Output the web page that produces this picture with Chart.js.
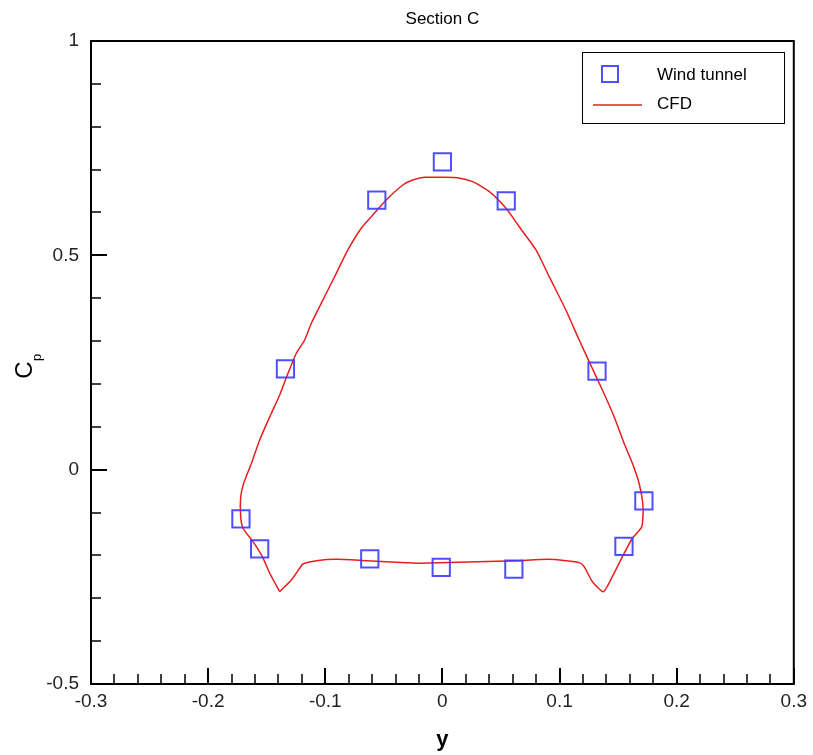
<!DOCTYPE html>
<html>
<head>
<meta charset="utf-8">
<script src="https://cdn.jsdelivr.net/npm/chart.js@4/dist/chart.umd.min.js"></script>
<style>
html,body{margin:0;padding:0;background:#fff;}
#wrap{width:813px;height:755px;}
</style>
</head>
<body>
<div id="wrap"><canvas id="c" width="813" height="755"></canvas></div>
<script>
// Wind tunnel measurements
const windX = [0.000, -0.056, 0.0545, -0.134, 0.132, -0.172, -0.156, -0.062, -0.001, 0.061, 0.155, 0.172];
const windY = [0.718, 0.629, 0.627, 0.235, 0.230, -0.115, -0.185, -0.208, -0.228, -0.232, -0.179, -0.073];

// CFD closed curve
const cfdX = [-0.1389,-0.1474,-0.1537,-0.1617,-0.1702,-0.1722,-0.1722,-0.1696,-0.1630,-0.1560,-0.1460,-0.1389,-0.1318,-0.1247,-0.1176,-0.1119,-0.0991,-0.0906,-0.0807,-0.0693,-0.0594,-0.0480,-0.0338,-0.0253,-0.0153,0.0000,0.0130,0.0258,0.0401,0.0543,0.0656,0.0799,0.0912,0.1054,0.1168,0.1253,0.1366,0.1466,0.1551,0.1622,0.1679,0.1713,0.1702,0.1622,0.1537,0.1451,0.1375,0.1281,0.1210,0.1168,0.1054,0.0897,0.0628,0.0301,-0.0196,-0.0309,-0.0650,-0.0906,-0.1076,-0.1191,-0.1219,-0.1290,-0.1389];
const cfdY = [-0.2846,-0.2417,-0.2029,-0.1680,-0.1367,-0.1096,-0.0630,-0.0317,0.0149,0.0693,0.1316,0.1743,0.2249,0.2716,0.3025,0.3415,0.4115,0.4581,0.5125,0.5631,0.5941,0.6291,0.6641,0.6757,0.6821,0.6821,0.6811,0.6718,0.6485,0.6098,0.5668,0.5125,0.4502,0.3725,0.3025,0.2519,0.1859,0.1236,0.0616,0.0149,-0.0317,-0.0863,-0.1330,-0.1600,-0.2029,-0.2496,-0.2846,-0.2613,-0.2263,-0.2169,-0.2123,-0.2090,-0.2123,-0.2146,-0.2183,-0.2169,-0.2123,-0.2090,-0.2123,-0.2200,-0.2300,-0.2573,-0.2846];

const xTicks = [-0.3,-0.2,-0.1,0,0.1,0.2,0.3];
const yTicks = [-0.5,0,0.5,1];

const chartTitle = 'Section C';
const xTitle = 'y';
const yTitleMain = 'C';
const yTitleSub = 'p';
const legendLabels = ['Wind tunnel','CFD'];

const FONT = '"Liberation Sans", Arial, Helvetica, sans-serif';
const BLUE = 'rgba(60,60,255,0.9)';
const RED = 'rgb(232,30,30)';

const windData = windX.map((x,i)=>({x:x,y:windY[i]}));
const cfdData = cfdX.map((x,i)=>({x:x,y:cfdY[i]}));

const decor = {
  id:'decor',
  afterDraw(chart){
    const ctx = chart.ctx;
    const a = chart.chartArea;
    const xs = chart.scales.x, ys = chart.scales.y;
    ctx.save();
    // frame
    ctx.strokeStyle = '#000';
    ctx.lineWidth = 2;
    ctx.strokeRect(a.left, a.top, a.right - a.left, a.bottom - a.top);
    // inward ticks x
    for (let i = 0; i <= 30; i++) {
      const v = -0.3 + i * 0.02;
      const px = Math.round(xs.getPixelForValue(v));
      const major = i % 5 === 0;
      ctx.lineWidth = major ? 2 : 1.5;
      ctx.beginPath();
      ctx.moveTo(px, a.bottom);
      ctx.lineTo(px, a.bottom - (major ? 16 : 10));
      ctx.stroke();
    }
    // inward ticks y
    for (let i = 0; i <= 15; i++) {
      const v = -0.5 + i * 0.1;
      const py = Math.round(ys.getPixelForValue(v));
      const major = i % 5 === 0;
      ctx.lineWidth = major ? 2 : 1.5;
      ctx.beginPath();
      ctx.moveTo(a.left, py);
      ctx.lineTo(a.left + (major ? 16 : 10), py);
      ctx.stroke();
    }
    // title
    ctx.fillStyle = '#000';
    ctx.textAlign = 'center';
    ctx.textBaseline = 'middle';
    ctx.font = '17px ' + FONT;
    ctx.fillText(chartTitle, (a.left + a.right) / 2, 19);
    // x title
    ctx.font = 'bold 22px ' + FONT;
    ctx.fillText(xTitle, (a.left + a.right) / 2, 740);
    // y title rotated
    ctx.save();
    ctx.translate(25, 370);
    ctx.rotate(-Math.PI / 2);
    ctx.font = '24px ' + FONT;
    ctx.textAlign = 'center';
    ctx.fillText(yTitleMain, 0, 0);
    ctx.font = '13px ' + FONT;
    ctx.textAlign = 'left';
    ctx.fillText(yTitleSub, 9, 12);
    ctx.restore();
    // legend
    ctx.lineWidth = 1;
    ctx.strokeStyle = '#000';
    ctx.strokeRect(582.5, 52.5, 202, 71);
    ctx.strokeStyle = BLUE;
    ctx.lineWidth = 2;
    ctx.strokeRect(602, 66, 16, 16);
    ctx.strokeStyle = RED;
    ctx.lineWidth = 1.5;
    ctx.beginPath();
    ctx.moveTo(593, 105);
    ctx.lineTo(642, 105);
    ctx.stroke();
    ctx.fillStyle = '#000';
    ctx.font = '17px ' + FONT;
    ctx.textAlign = 'left';
    ctx.fillText(legendLabels[0], 657, 75);
    ctx.fillText(legendLabels[1], 657, 104);
    ctx.restore();
  }
};

new Chart(document.getElementById('c'), {
  type: 'scatter',
  data: {
    datasets: [
      {
        label: legendLabels[1],
        data: cfdData,
        showLine: true,
        borderColor: RED,
        borderWidth: 1.5,
        pointRadius: 0,
        tension: 0.2,
        fill: false,
        order: 2
      },
      {
        label: legendLabels[0],
        data: windData,
        pointStyle: 'rect',
        pointRadius: 12.2,
        pointHoverRadius: 12.2,
        pointBorderColor: BLUE,
        pointBackgroundColor: 'rgba(0,0,0,0)',
        pointBorderWidth: 2,
        showLine: false,
        order: 1
      }
    ]
  },
  options: {
    responsive: false,
    animation: false,
    events: [],
    layout: { padding: { left: 0, right: 18, top: 41, bottom: 0 } },
    plugins: { legend: { display: false }, title: { display: false }, tooltip: { enabled: false } },
    scales: {
      x: {
        type: 'linear',
        min: -0.3, max: 0.3,
        afterFit(s){ s.height = 71; },
        afterBuildTicks(s){ s.ticks = xTicks.map(v=>({value:v})); },
        grid: { display: false, drawTicks: false },
        border: { display: false },
        ticks: {
          padding: 6,
          color: '#222',
          font: { family: FONT, size: 19 },
          callback: v => String(+(+v).toFixed(1))
        }
      },
      y: {
        type: 'linear',
        min: -0.5, max: 1,
        afterFit(s){ s.width = 91; },
        afterBuildTicks(s){ s.ticks = yTicks.map(v=>({value:v})); },
        grid: { display: false, drawTicks: false },
        border: { display: false },
        ticks: {
          padding: 12,
          color: '#222',
          font: { family: FONT, size: 19 },
          callback: v => String(+(+v).toFixed(1))
        }
      }
    }
  },
  plugins: [decor]
});
</script>
</body>
</html>
